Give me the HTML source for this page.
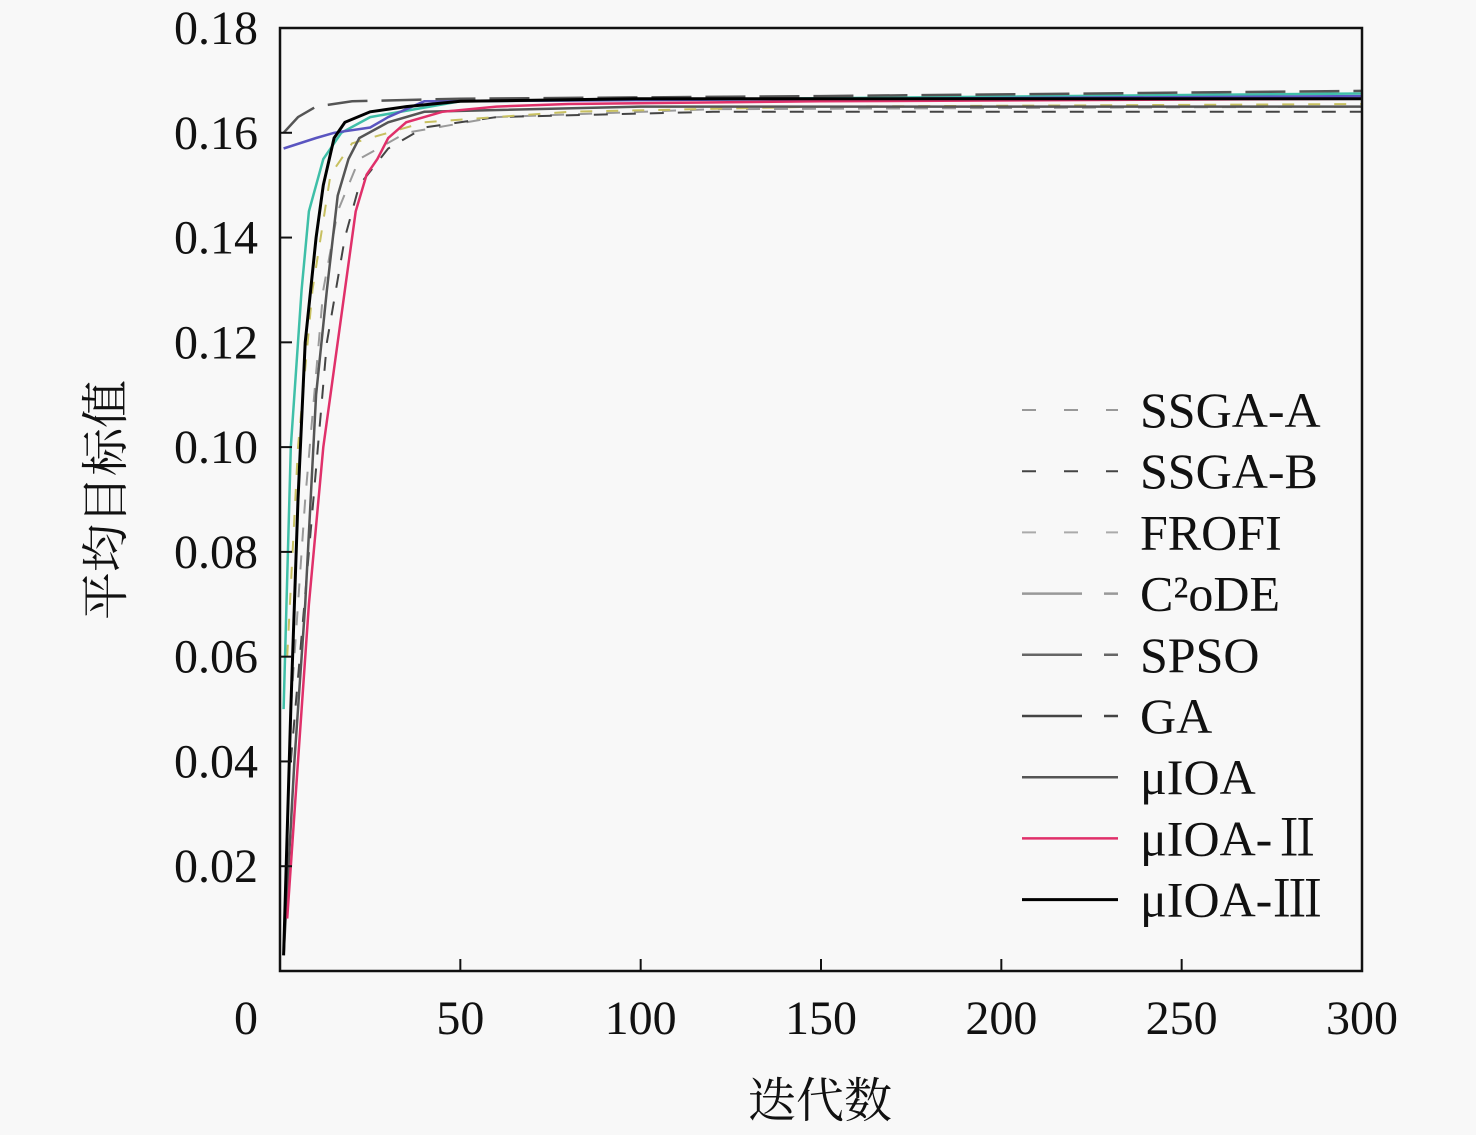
<!DOCTYPE html>
<html><head><meta charset="utf-8"><style>
body{margin:0;background:#f8f8f8}
svg{display:block}
text{font-family:"Liberation Serif","Noto Serif CJK SC",serif;fill:#111}
</style></head><body>
<svg id="chart" width="1476" height="1135" viewBox="0 0 1476 1135" xmlns="http://www.w3.org/2000/svg">
<rect width="1476" height="1135" fill="#f8f8f8"/>
<g id="series"></g>
<g id="axes"></g>
<g id="legend"></g>
</svg>
<script>
const xTicks=[0,50,100,150,200,250,300];
const yTicks=[0.02,0.04,0.06,0.08,0.10,0.12,0.14,0.16,0.18];
const seriesNames=["SSGA-A","SSGA-B","FROFI","C²oDE","SPSO","GA","μIOA","μIOA-Ⅱ","μIOA-Ⅲ"];
const ssgaAIter=[3,7,12,16,22,35,60,120,300];
const ssgaAVal=[0.05,0.09,0.13,0.145,0.155,0.160,0.163,0.1645,0.165];
const ssgaBIter=[3,8,13,18,22,30,40,60,120,300];
const ssgaBVal=[0.04,0.08,0.12,0.14,0.15,0.157,0.161,0.163,0.164,0.164];
const frofiIter=[2,5,9,14,20,40,80,150,300];
const frofiVal=[0.06,0.10,0.13,0.152,0.158,0.162,0.164,0.165,0.1655];
const c2odeIter=[1,3,6,8,12,17,25,50,300];
const c2odeVal=[0.05,0.10,0.13,0.145,0.155,0.16,0.163,0.166,0.1675];
const spsoIter=[1,10,15,25,30,40,300];
const spsoVal=[0.157,0.159,0.16,0.161,0.163,0.166,0.167];
const gaIter=[1,5,10,20,50,150,300];
const gaVal=[0.16,0.163,0.165,0.166,0.1665,0.167,0.168];
const muIter=[1,4,7,10,13,16,19,22,30,40,100,300];
const muVal=[0.003,0.04,0.07,0.11,0.13,0.148,0.155,0.159,0.162,0.164,0.165,0.165];
const mu2Iter=[2,5,8,12,15,18,21,24,27,30,35,45,60,80,150,300];
const mu2Val=[0.01,0.04,0.07,0.10,0.115,0.13,0.145,0.152,0.155,0.159,0.162,0.164,0.165,0.1655,0.166,0.1665];
const mu3Iter=[1,3,5,7,10,12,15,18,25,35,50,100,300];
const mu3Val=[0.003,0.05,0.09,0.12,0.14,0.15,0.159,0.162,0.164,0.165,0.166,0.1665,0.1665];

const L=280,R=1362,T=28,B=971;
const xS=v=>L+v*(R-L)/300;
const yS=v=>B-v*(B-T)/0.18;
const NS="http://www.w3.org/2000/svg";
function mk(tag,parent){const e=document.createElementNS(NS,tag);parent.appendChild(e);return e;}
const sg=document.getElementById('series'),ag=document.getElementById('axes'),lg=document.getElementById('legend');

const styles=[
 {c:"#9a9a9a",d:"14 14",w:2},
 {c:"#444",d:"14 14",w:2},
 {c:"#c8c060",d:"12 14",w:2},
 {c:"#3fbfa8",d:"",w:2.5},
 {c:"#5a55c0",d:"",w:2.5},
 {c:"#555",d:"40 14",w:2.5},
 {c:"#555",d:"",w:2.5},
 {c:"#e0306a",d:"",w:2.5},
 {c:"#000",d:"",w:3}
];
const legendColors=["#999","#444","#aaa","#999","#666","#444","#555","#e0306a","#000"];
const legendDash=["14 28","14 28","14 28","60 22","60 22","60 22","","",""];
const iters=[ssgaAIter,ssgaBIter,frofiIter,c2odeIter,spsoIter,gaIter,muIter,mu2Iter,mu3Iter];
const vals=[ssgaAVal,ssgaBVal,frofiVal,c2odeVal,spsoVal,gaVal,muVal,mu2Val,mu3Val];
const keys=["ssga-a","ssga-b","frofi","c2ode","spso","ga","muioa","muioa-2","muioa-3"];
for(let i=0;i<9;i++){
  const p=mk('path',sg);
  
  
  let d='';
  iters[i].forEach((x,j)=>{d+=(j?'L':'M')+xS(x).toFixed(1)+' '+yS(vals[i][j]).toFixed(1);});
  p.setAttribute('d',d);p.setAttribute('fill','none');p.setAttribute('stroke',styles[i].c);
  p.setAttribute('stroke-width',styles[i].w);if(styles[i].d)p.setAttribute('stroke-dasharray',styles[i].d);
}
const fr=mk('rect',ag);


fr.setAttribute('x',L);fr.setAttribute('y',T);fr.setAttribute('width',R-L);fr.setAttribute('height',B-T);
fr.setAttribute('fill','none');fr.setAttribute('stroke','#111');fr.setAttribute('stroke-width',2.5);
xTicks.forEach(v=>{
  const t=mk('line',ag);
  
  
  t.setAttribute('x1',xS(v));t.setAttribute('x2',xS(v));t.setAttribute('y1',B);t.setAttribute('y2',B-12);t.setAttribute('stroke','#111');t.setAttribute('stroke-width',2);
  const l=mk('text',ag);
  
  
  l.setAttribute('x',v===0?xS(v)-34:xS(v));l.setAttribute('y',1034);l.setAttribute('text-anchor','middle');l.setAttribute('font-size','48');l.textContent=v;
});
yTicks.forEach(v=>{
  const t=mk('line',ag);
  
  
  t.setAttribute('x1',L);t.setAttribute('x2',L+12);t.setAttribute('y1',yS(v));t.setAttribute('y2',yS(v));t.setAttribute('stroke','#111');t.setAttribute('stroke-width',2);
  const l=mk('text',ag);
  
  
  l.setAttribute('x',258);l.setAttribute('y',yS(v)+16);l.setAttribute('text-anchor','end');l.setAttribute('font-size','48');l.textContent=v.toFixed(2);
});
const xt=mk('text',ag);


xt.setAttribute('x',820);xt.setAttribute('y',1117);xt.setAttribute('text-anchor','middle');xt.setAttribute('font-size','48');xt.textContent='迭代数';
const yt=mk('text',ag);


yt.setAttribute('transform','translate(122,500) rotate(-90)');yt.setAttribute('text-anchor','middle');yt.setAttribute('font-size','48');yt.textContent='平均目标值';

for(let i=0;i<9;i++){
  const y=410+i*61.2;
  const ln=mk('line',lg);
  
  
  ln.setAttribute('x1',1022);ln.setAttribute('x2',1118);ln.setAttribute('y1',y);ln.setAttribute('y2',y);
  ln.setAttribute('stroke',legendColors[i]);ln.setAttribute('stroke-width',styles[i].w);
  if(legendDash[i])ln.setAttribute('stroke-dasharray',legendDash[i]);
  const tx=mk('text',lg);
  
  
  tx.setAttribute('x',1140);tx.setAttribute('y',y+17);tx.setAttribute('font-size','50');tx.textContent=seriesNames[i];
}
</script>
</body></html>
